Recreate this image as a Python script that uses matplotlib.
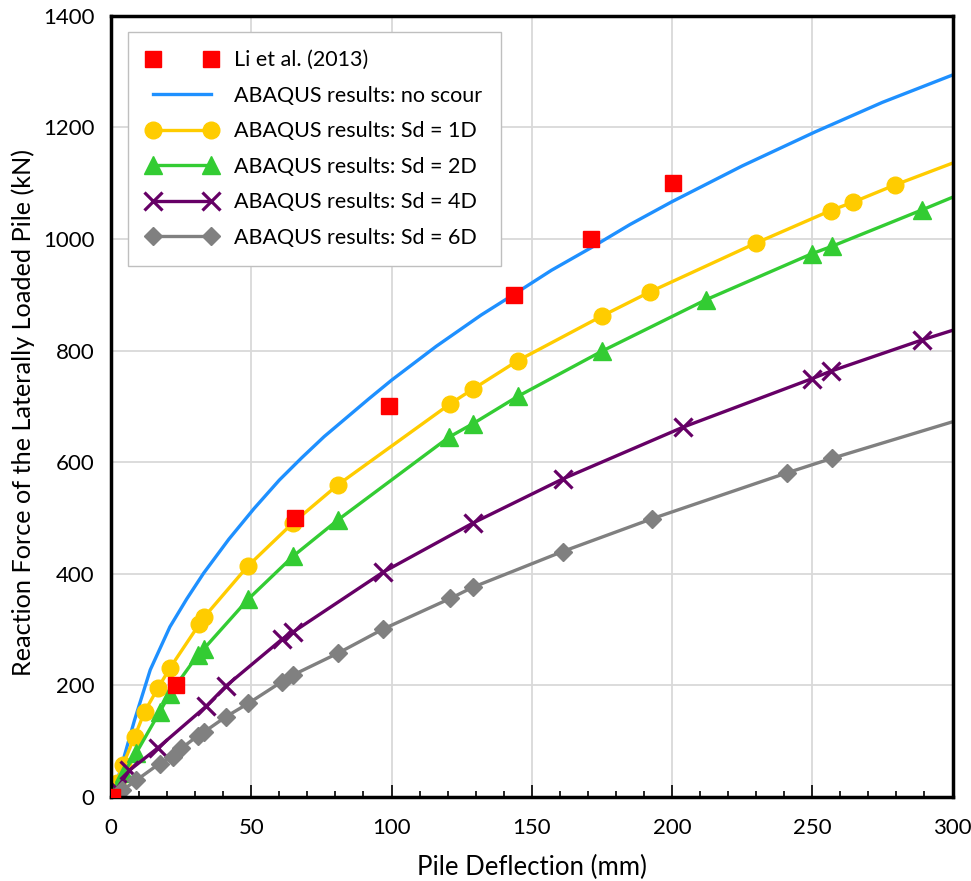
import matplotlib
matplotlib.use("Agg")
import matplotlib.pyplot as plt
from matplotlib.ticker import MultipleLocator

plt.rcParams['font.family'] = ['Lato', 'DejaVu Sans']

# Li et al. (2013) measurements
li_x = [0.5, 23, 65.5, 99, 143.5, 171, 200.5]
li_y = [0, 200, 500, 700, 900, 1000, 1100]

# ABAQUS, no scour
ns_x = [0, 2, 4, 8.4, 14, 21, 27, 33, 42, 51, 60, 68, 76, 84, 92, 100, 116, 132,
        144, 157, 171, 185, 200, 225, 251, 275, 300]
ns_y = [0, 25, 60, 138, 228, 305, 355, 401, 462, 517, 568, 608, 646, 680, 714, 747,
        808, 864, 902, 944, 984, 1026, 1067, 1131, 1192, 1245, 1294]

# ABAQUS, scour depth 1D
sd1_x = [0, 2, 4.3, 8.4, 12, 16.7, 21, 31.5, 33.3, 48.8, 65, 81, 121, 129, 145, 175,
         192, 230, 256.5, 264.5, 279.5, 301]
sd1_y = [0, 25, 58, 108, 153, 195, 231, 310, 323, 414, 492, 560, 705, 731, 782, 862,
         905, 993, 1051, 1066, 1097, 1138]

# ABAQUS, scour depth 2D
sd2_x = [0, 2, 4.5, 9, 17.3, 21, 31, 33, 49, 65, 81, 120.5, 129, 145, 175, 212, 250,
         257, 289, 301]
sd2_y = [0, 15, 43, 79, 152, 185, 255, 265, 355, 432, 497, 645, 669, 718, 799, 891,
         974, 987, 1052, 1077]

# ABAQUS, scour depth 4D
sd4_x = [0, 2, 6.6, 16.7, 34, 41, 61, 65, 97, 129, 161, 204, 250, 256.5, 289, 301]
sd4_y = [0, 14, 48, 88, 163, 199, 283, 296, 403, 491, 570, 663, 750, 763, 819, 838]

# ABAQUS, scour depth 6D
sd6_x = [0, 4, 9, 17.3, 22, 25, 31, 33, 41, 49, 61, 65, 81, 97, 121, 129, 161, 193,
         241, 257, 301]
sd6_y = [0, 12, 30, 60, 72, 87, 110, 116, 144, 168, 207, 219, 258, 301, 356, 376,
         440, 499, 581, 607, 674]

fig = plt.figure(figsize=(9.71, 8.81), dpi=100)
ax = fig.add_axes([0.1143, 0.0953, 0.8667, 0.8867])

lw = 2.4
ax.plot(ns_x, ns_y, color='#1E90FF', lw=lw, label='ABAQUS results: no scour')
ax.plot(sd1_x, sd1_y, color='#FFCC00', lw=lw, marker='o', ms=12, mec='#FFCC00',
        markevery=list(range(len(sd1_x) - 1)), label='ABAQUS results: Sd = 1D')
ax.plot(sd2_x, sd2_y, color='#33CC33', lw=lw, marker='^', ms=13, mec='#33CC33',
        markevery=list(range(len(sd2_x) - 1)), label='ABAQUS results: Sd = 2D')
ax.plot(sd4_x, sd4_y, color='#660066', lw=lw, marker='x', ms=13, mew=2.3,
        markevery=list(range(len(sd4_x) - 1)), label='ABAQUS results: Sd = 4D')
ax.plot(sd6_x, sd6_y, color='#808080', lw=lw, marker='D', ms=9.5, mec='#808080',
        markevery=list(range(len(sd6_x) - 1)), label='ABAQUS results: Sd = 6D')
ax.plot(li_x, li_y, ls='none', marker='s', ms=11.5, color='#FF0000', zorder=10,
        label='Li et al. (2013)')

ax.set_xlim(0, 300)
ax.set_ylim(0, 1400)
ax.xaxis.set_major_locator(MultipleLocator(50))
ax.xaxis.set_minor_locator(MultipleLocator(10))
ax.yaxis.set_major_locator(MultipleLocator(200))
ax.grid(True, color='#D9D9D9', lw=1.3)
ax.set_axisbelow(True)
for s in ax.spines.values():
    s.set_linewidth(2.5)
    s.set_color('black')
ax.tick_params(axis='x', which='major', direction='in', length=9, width=1.2,
               labelsize=16, pad=15)
ax.tick_params(axis='x', which='minor', direction='in', length=4, width=1.2)
ax.tick_params(axis='y', which='major', length=0, labelsize=16, pad=12)

ax.set_xlabel('Pile Deflection (mm)', fontsize=18.5, labelpad=12)
ax.set_ylabel('Reaction Force of the Laterally Loaded Pile (kN)', fontsize=18.2,
              va='center')
ax.yaxis.set_label_coords(-0.1045, 0.492)

handles, labels = ax.get_legend_handles_labels()
order = [5, 0, 1, 2, 3, 4]
leg = ax.legend([handles[i] for i in order], [labels[i] for i in order],
                loc='upper left', bbox_to_anchor=(0.02, 0.9795), borderaxespad=0,
                numpoints=2, fontsize=15.5, fancybox=False, edgecolor='#BFBFBF',
                framealpha=1, handlelength=3.3, handletextpad=0.8,
                labelspacing=0.72, borderpad=0.85)
leg.get_frame().set_linewidth(1.0)

fig.savefig('out.png', dpi=100)
